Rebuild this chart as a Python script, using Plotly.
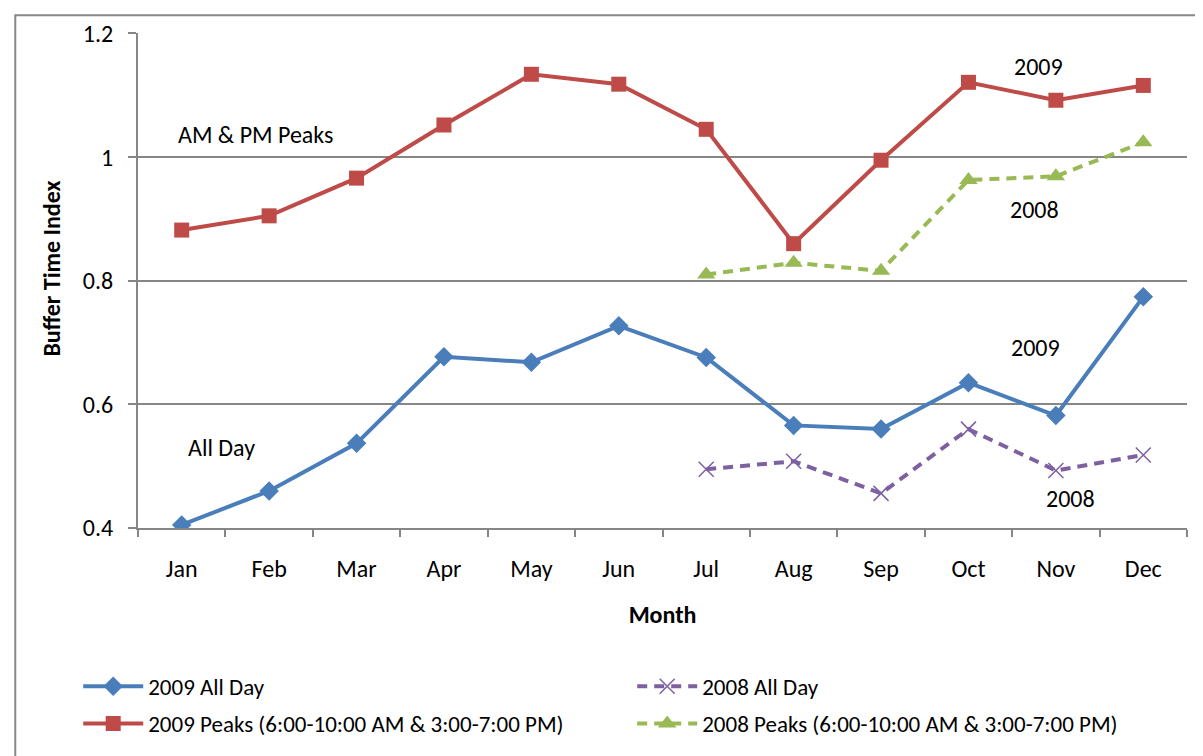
import plotly.graph_objects as go

months = ["Jan", "Feb", "Mar", "Apr", "May", "Jun", "Jul", "Aug", "Sep", "Oct", "Nov", "Dec"]
all_day_2009 = [0.405, 0.460, 0.537, 0.677, 0.668, 0.727, 0.676, 0.566, 0.560, 0.635, 0.582, 0.774]
all_day_2008 = [None, None, None, None, None, None, 0.495, 0.508, 0.456, 0.560, 0.493, 0.518]
peaks_2009 = [0.882, 0.905, 0.966, 1.052, 1.134, 1.118, 1.045, 0.860, 0.995, 1.121, 1.092, 1.116]
peaks_2008 = [None, None, None, None, None, None, 0.810, 0.829, 0.816, 0.963, 0.969, 1.024]

FONT = "Carlito, Lato, Open Sans, sans-serif"
BLUE = "#4A7EBB"
RED = "#BE4B48"
GREEN = "#98B954"
PURPLE = "#7D60A0"

fig = go.Figure()
fig.add_trace(go.Scatter(x=months, y=all_day_2009, name="2009 All Day", mode="lines+markers",
                         line=dict(color=BLUE, width=4),
                         marker=dict(symbol="diamond", size=15, color=BLUE), legend="legend"))
fig.add_trace(go.Scatter(x=months, y=all_day_2008, name="2008 All Day", mode="lines+markers",
                         line=dict(color=PURPLE, width=4, dash="10px,7px"),
                         marker=dict(symbol="x-thin", size=15, line=dict(color=PURPLE, width=1.5)),
                         legend="legend"))
fig.add_trace(go.Scatter(x=months, y=peaks_2009, name="2009 Peaks (6:00-10:00 AM & 3:00-7:00 PM)",
                         mode="lines+markers", line=dict(color=RED, width=4),
                         marker=dict(symbol="square", size=15, color=RED), legend="legend2"))
fig.add_trace(go.Scatter(x=months, y=peaks_2008, name="2008 Peaks (6:00-10:00 AM & 3:00-7:00 PM)",
                         mode="lines+markers", line=dict(color=GREEN, width=4, dash="10px,7px"),
                         marker=dict(symbol="triangle-up", size=16, color=GREEN), legend="legend2"))

annots = [
    ("AM & PM Peaks", 0.84, 1.037),
    ("2009", 9.8, 1.147),
    ("2008", 9.75, 0.915),
    ("2009", 9.77, 0.692),
    ("2008", 10.17, 0.447),
    ("All Day", 0.45, 0.530),
]
for text, xv, yv in annots:
    fig.add_annotation(x=xv, y=yv, xref="x", yref="y", text=text, showarrow=False,
                       font=dict(family=FONT, size=24, color="black"))

# y-axis title as a rotated annotation (positioned like the reference)
fig.add_annotation(x=-0.082, y=0.524, xref="paper", yref="paper", text="<b>Buffer Time Index</b>",
                   textangle=-90, showarrow=False, xanchor="center", yanchor="middle",
                   font=dict(family=FONT, size=24, color="black"))

leg_common = dict(orientation="h", font=dict(family=FONT, size=23, color="black"),
                  entrywidth=479, entrywidthmode="pixels", bgcolor="rgba(0,0,0,0)",
                  xanchor="left", yanchor="middle", itemwidth=60)

fig.update_layout(
    width=1195, height=748,
    margin=dict(l=130, r=16, t=25, b=227),
    plot_bgcolor="white", paper_bgcolor="white",
    font=dict(family=FONT, size=24, color="black"),
    xaxis=dict(title=dict(text="<b>Month</b>", font=dict(size=24), standoff=24),
               type="category", range=[-0.5, 11.5], showgrid=False,
               showline=True, linecolor="#868686", linewidth=2,
               ticks="outside", tickson="boundaries", ticklen=7, tickcolor="#868686", tickwidth=2,
               ticklabelstandoff=18, tickfont=dict(size=24)),
    yaxis=dict(range=[0.4, 1.2008], tickvals=[0.4, 0.6, 0.8, 1.0, 1.2], tickformat="~g",
               showgrid=True, gridcolor="#868686", gridwidth=1.5,
               showline=True, linecolor="#868686", linewidth=2,
               ticks="outside", ticklen=8, tickcolor="#868686", tickwidth=2,
               ticklabelstandoff=10, zeroline=False, tickfont=dict(size=24)),
    legend=dict(x=-0.057, y=-0.317, **leg_common),
    legend2=dict(x=-0.057, y=-0.392, **leg_common),
    shapes=[dict(type="rect", xref="paper", yref="paper", x0=-0.117, x1=1.05, y0=-0.6, y1=1.036,
                 line=dict(color="#888888", width=2), fillcolor="rgba(0,0,0,0)", layer="below")],
)

fig.write_html("out.html")
